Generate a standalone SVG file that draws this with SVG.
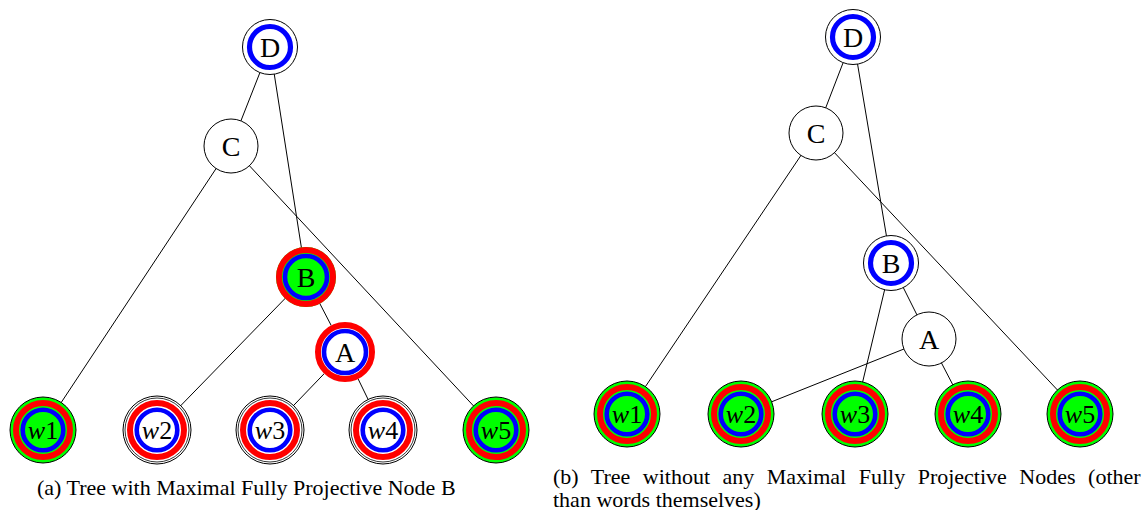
<svg xmlns="http://www.w3.org/2000/svg" xmlns:xlink="http://www.w3.org/1999/xlink" width="1144" height="510" viewBox="0 0 1144 510">
<style>
.edge{stroke:#000;stroke-width:1;fill:none}
.lbl{font-size:28px;text-anchor:middle;fill:#000}
.wl{font-size:26px;text-anchor:middle;fill:#000}
.cap{font-size:22px;fill:#000}
.red{fill:none;stroke:#ff0000;stroke-width:6}
.blue{fill:none;stroke:#0000ff;stroke-width:4.6}
.ol{stroke:#000;stroke-width:1}
</style>
<defs>
<g id="plain"><circle r="27" fill="#fff" class="ol"/></g>
<g id="dnode"><circle r="27.5" fill="#fff" class="ol"/><circle r="20.5" class="blue" style="stroke-width:5.2"/></g>
<g id="bnodeG"><circle r="30" fill="#00ff00"/><circle r="27" class="red"/><circle r="21" class="blue"/></g>
<g id="anodeW"><circle r="30" fill="#fff"/><circle r="27" class="red"/><circle r="21" class="blue"/></g>
<g id="wordG"><circle r="33" fill="#00ff00" class="ol"/><circle r="27" class="red"/><circle r="20.3" class="blue"/></g>
<g id="wordW"><circle r="34" fill="#fff" class="ol"/><circle r="32" fill="none" class="ol" style="stroke-width:0.8"/><circle r="27" class="red"/><circle r="20.3" class="blue"/></g>
</defs>

<g id="connectors">
<line class="edge" x1="270" y1="47" x2="231" y2="146"/>
<line class="edge" x1="270" y1="47" x2="306" y2="277"/>
<line class="edge" x1="231" y1="146" x2="43" y2="430"/>
<line class="edge" x1="231" y1="146" x2="496" y2="430"/>
<line class="edge" x1="306" y1="277" x2="157" y2="430"/>
<line class="edge" x1="306" y1="277" x2="345" y2="352"/>
<line class="edge" x1="345" y1="352" x2="270" y2="430"/>
<line class="edge" x1="345" y1="352" x2="383" y2="430"/>

<line class="edge" x1="853" y1="37" x2="816" y2="133"/>
<line class="edge" x1="853" y1="37" x2="891" y2="263"/>
<line class="edge" x1="816" y1="133" x2="627" y2="414"/>
<line class="edge" x1="816" y1="133" x2="1080" y2="414"/>
<line class="edge" x1="891" y1="263" x2="855" y2="414"/>
<line class="edge" x1="891" y1="263" x2="929" y2="339"/>
<line class="edge" x1="929" y1="339" x2="741" y2="414"/>
<line class="edge" x1="929" y1="339" x2="968" y2="414"/>
</g>

<g font-family="'Liberation Serif', 'Times New Roman', 'DejaVu Serif', serif">
<g id="a-D" transform="translate(270,47)"><use xlink:href="#dnode"/><text class="lbl" y="10">D</text></g>
<g id="a-C" transform="translate(231,146)"><use xlink:href="#plain"/><text class="lbl" y="10">C</text></g>
<g id="a-B" transform="translate(306,277)"><use xlink:href="#bnodeG"/><text class="lbl" y="10">B</text></g>
<g id="a-A" transform="translate(345,352)"><use xlink:href="#anodeW"/><text class="lbl" y="10">A</text></g>
<g id="a-w1" transform="translate(43,430)"><use xlink:href="#wordG"/><text class="wl" y="9"><tspan font-style="italic">w</tspan>1</text></g>
<g id="a-w2" transform="translate(157,430)"><use xlink:href="#wordW"/><text class="wl" y="9"><tspan font-style="italic">w</tspan>2</text></g>
<g id="a-w3" transform="translate(270,430)"><use xlink:href="#wordW"/><text class="wl" y="9"><tspan font-style="italic">w</tspan>3</text></g>
<g id="a-w4" transform="translate(383,430)"><use xlink:href="#wordW"/><text class="wl" y="9"><tspan font-style="italic">w</tspan>4</text></g>
<g id="a-w5" transform="translate(496,430)"><use xlink:href="#wordG"/><text class="wl" y="9"><tspan font-style="italic">w</tspan>5</text></g>

<g id="b-D" transform="translate(853,37)"><use xlink:href="#dnode"/><text class="lbl" y="10">D</text></g>
<g id="b-C" transform="translate(816,133)"><use xlink:href="#plain"/><text class="lbl" y="10">C</text></g>
<g id="b-B" transform="translate(891,263)"><use xlink:href="#dnode"/><text class="lbl" y="10">B</text></g>
<g id="b-A" transform="translate(929,339)"><use xlink:href="#plain"/><text class="lbl" y="10">A</text></g>
<g id="b-w1" transform="translate(627,414)"><use xlink:href="#wordG"/><text class="wl" y="9"><tspan font-style="italic">w</tspan>1</text></g>
<g id="b-w2" transform="translate(741,414)"><use xlink:href="#wordG"/><text class="wl" y="9"><tspan font-style="italic">w</tspan>2</text></g>
<g id="b-w3" transform="translate(855,414)"><use xlink:href="#wordG"/><text class="wl" y="9"><tspan font-style="italic">w</tspan>3</text></g>
<g id="b-w4" transform="translate(968,414)"><use xlink:href="#wordG"/><text class="wl" y="9"><tspan font-style="italic">w</tspan>4</text></g>
<g id="b-w5" transform="translate(1080,414)"><use xlink:href="#wordG"/><text class="wl" y="9"><tspan font-style="italic">w</tspan>5</text></g>

<g id="captions">
<text class="cap" x="37" y="495">(a) Tree with Maximal Fully Projective Node B</text>
<text class="cap" x="553" y="484" word-spacing="7">(b) Tree without any Maximal Fully Projective Nodes (other</text>
<text class="cap" x="553" y="507">than words themselves)</text>
</g>
</g>
</svg>
